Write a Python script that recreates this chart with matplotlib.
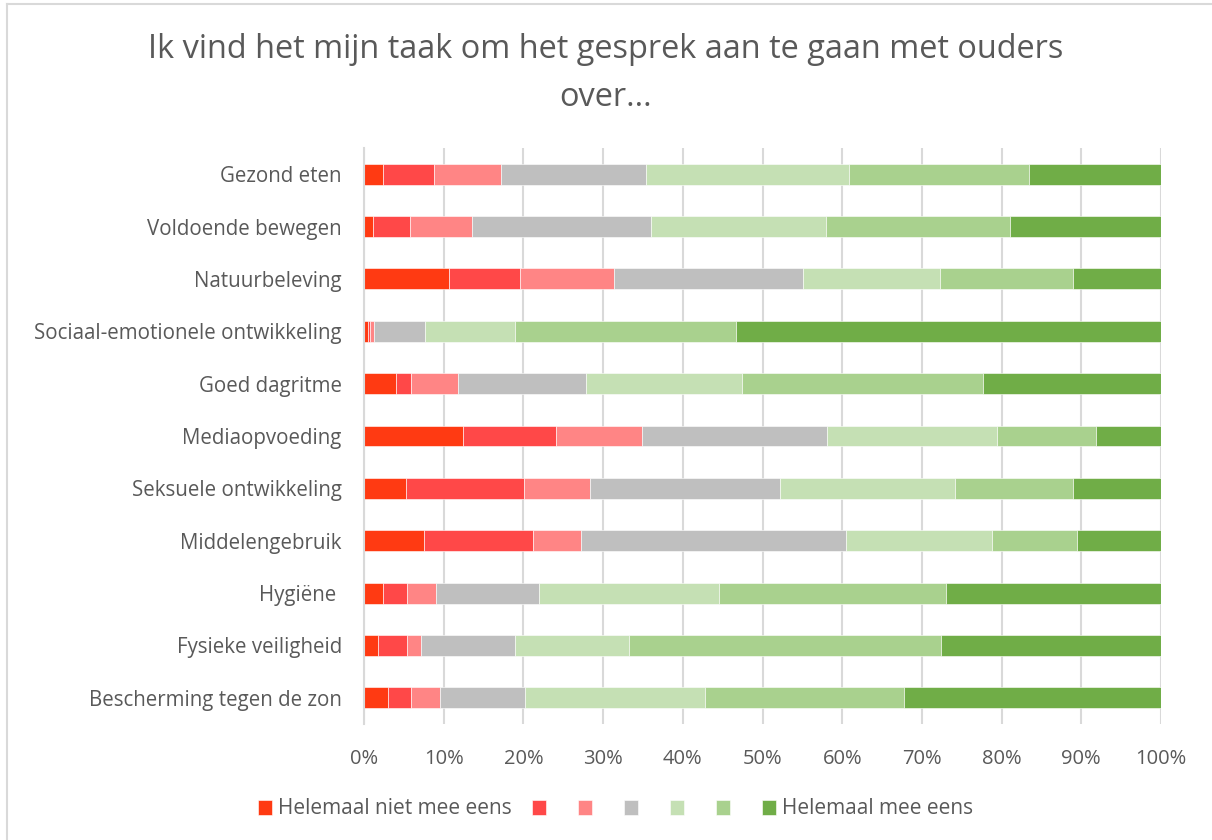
import matplotlib.pyplot as plt
from matplotlib.lines import Line2D
from matplotlib.ticker import PercentFormatter
import numpy as np

plt.rcParams['font.family'] = ['Open Sans', 'DejaVu Sans']

# Data (percentages per answer category)
topics = [
    "Gezond eten",
    "Voldoende bewegen",
    "Natuurbeleving",
    "Sociaal-emotionele ontwikkeling",
    "Goed dagritme",
    "Mediaopvoeding",
    "Seksuele ontwikkeling",
    "Middelengebruik",
    "Hygiëne ",
    "Fysieke veiligheid",
    "Bescherming tegen de zon",
]
helemaal_niet_eens = [2.4, 1.1, 10.7, 0.5, 4.0, 12.4, 5.3, 7.5, 2.4, 1.8, 3.0]
niet_eens = [6.4, 4.7, 8.9, 0.2, 1.9, 11.7, 14.8, 13.7, 3.0, 3.6, 2.9]
beetje_niet_eens = [8.4, 7.7, 11.8, 0.5, 5.9, 10.8, 8.3, 6.0, 3.6, 1.8, 3.6]
neutraal = [18.2, 22.5, 23.7, 6.4, 16.0, 23.2, 23.8, 33.3, 13.0, 11.8, 10.7]
beetje_eens = [25.5, 22.0, 17.2, 11.3, 19.6, 21.3, 22.0, 18.3, 22.6, 14.3, 22.6]
eens = [22.6, 23.1, 16.6, 27.8, 30.3, 12.5, 14.8, 10.7, 28.4, 39.1, 24.9]
helemaal_eens = [16.6, 18.9, 11.1, 53.3, 22.4, 8.2, 11.1, 10.5, 27.1, 27.7, 32.3]

series = [helemaal_niet_eens, niet_eens, beetje_niet_eens, neutraal,
          beetje_eens, eens, helemaal_eens]
legend_labels = ["Helemaal niet mee eens", " ", " ", " ", " ", " ",
                 "Helemaal mee eens"]
colors = ["#FF3A12", "#FF4848", "#FF8585", "#BFBFBF",
          "#C5E0B4", "#A9D18E", "#70AD47"]

text_color = "#595959"
grid_color = "#D9D9D9"

fig = plt.figure(figsize=(12.12, 8.4), dpi=100)
ax = fig.add_axes([364 / 1212, 1 - 724 / 840, 797 / 1212, 576 / 840])

y = np.arange(len(topics))
left = np.zeros(len(topics))
handles = []
for vals, col, lab in zip(series, colors, legend_labels):
    vals = np.array(vals)
    b = ax.barh(y, vals, left=left, height=0.4, color=col,
                edgecolor="white", linewidth=0.4, label=lab)
    handles.append(b)
    left = left + vals

ax.set_xlim(0, 100)
ax.set_ylim(len(topics) - 0.5, -0.5)
ax.set_yticks(y)
ax.set_yticklabels(topics, fontsize=14.8, color=text_color)
ax.set_xticks(np.arange(0, 101, 10))
ax.xaxis.set_major_formatter(PercentFormatter(decimals=0))
ax.tick_params(axis='x', labelsize=14.5, colors=text_color, length=0, pad=18)
ax.tick_params(axis='y', length=0, pad=16)

ax.set_axisbelow(True)
ax.grid(axis='x', color=grid_color, linewidth=1.5)
for s in ["top", "right", "bottom"]:
    ax.spines[s].set_visible(False)
ax.spines["left"].set_color(grid_color)
ax.spines["left"].set_linewidth(1.5)

fig.text(0.5, 1 - 50 / 840, "Ik vind het mijn taak om het gesprek aan te gaan met ouders",
         ha="center", va="center", fontsize=23.4, color=text_color)
fig.text(0.5, 1 - 97 / 840, "over...",
         ha="center", va="center", fontsize=23.4, color=text_color)

leg = fig.legend(handles=handles, labels=legend_labels, loc="center",
                 bbox_to_anchor=(0.508, 1 - 809 / 840), ncol=7, frameon=False,
                 fontsize=15, handlelength=0.65, handleheight=0.75,
                 handletextpad=0.3, columnspacing=1.0)
for t in leg.get_texts():
    t.set_color(text_color)

# chart border (partially visible in the screenshot)
fig.add_artist(Line2D([7 / 1212, 7 / 1212], [0, 1 - 4 / 840],
                      transform=fig.transFigure, color=grid_color, linewidth=1.5))
fig.add_artist(Line2D([7 / 1212, 1], [1 - 4 / 840, 1 - 4 / 840],
                      transform=fig.transFigure, color=grid_color, linewidth=1.5))

fig.savefig("out.png", dpi=100)
